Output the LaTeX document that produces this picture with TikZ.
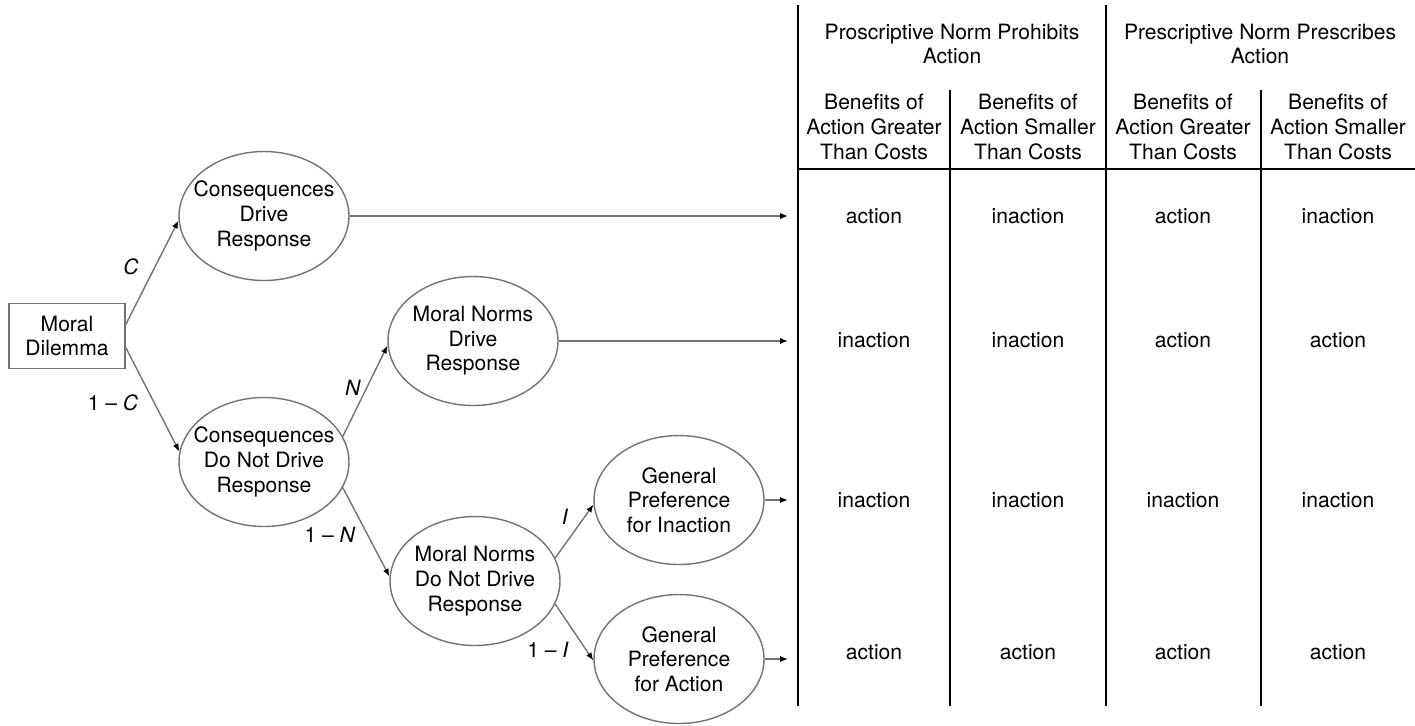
\documentclass[tikz,border=0pt]{standalone}
\usepackage{fontspec}
\setmainfont{TeX Gyre Heros}
\usetikzlibrary{shapes.geometric,arrows.meta}
\definecolor{edgegray}{gray}{0.45}

\begin{document}
\begin{tikzpicture}[x=0.02cm, y=-0.02cm,
        font=\fontsize{12}{14}\selectfont,
        state/.style={ellipse, draw=edgegray, line width=0.8pt, minimum width=3.4cm, minimum height=2.58cm, inner xsep=-10pt, inner ysep=0pt, align=center},
        branch/.style={draw=edgegray, line width=0.8pt, -{Latex[black,length=4.5pt,width=3.5pt]}},
        rule/.style={line width=0.9pt},
        cell/.style={align=center}]

        \useasboundingbox (0,0) rectangle (1415,725);

        % tree
        \node[draw=edgegray, line width=0.8pt, minimum width=2.32cm, minimum height=1.3cm, align=center] (dilemma) at (67,336) {Moral\\Dilemma};
        \node[state] (consDrive) at (264,216) {Consequences\\Drive\\Response};
        \node[state] (consNot) at (264,462) {Consequences\\Do Not Drive\\Response};
        \node[state] (normsDrive) at (473,341) {Moral Norms\\Drive\\Response};
        \node[state] (normsNot) at (475,581) {Moral Norms\\Do Not Drive\\Response};
        \node[state] (prefInaction) at (679,500) {General\\Preference\\for Inaction};
        \node[state] (prefAction) at (679,659) {General\\Preference\\for Action};
        \coordinate (tblEdge) at (788,0);

        \draw[branch] (dilemma.11) -- (consDrive.183);
        \draw[branch] (dilemma.-11) -- (consNot.173);
        \draw[branch] (consNot.18) -- (normsDrive.183);
        \draw[branch] (consNot.-18) -- (normsNot.177);
        \draw[branch] (normsNot.16) -- (prefInaction.183);
        \draw[branch] (normsNot.-16) -- (prefAction.181);

        \draw[branch] (consDrive.east) -- (consDrive.east -| tblEdge);
        \draw[branch] (normsDrive.east) -- (normsDrive.east -| tblEdge);
        \draw[branch] (prefInaction.east) -- (prefInaction.east -| tblEdge);
        \draw[branch] (prefAction.east) -- (prefAction.east -| tblEdge);

        % probabilities
        \node (pC) at (131,267) {\textit{C}};
        \node (pNotC) at (113,403) {1 -- \textit{C}};
        \node (pN) at (353,388) {\textit{N}};
        \node (pNotN) at (330,535) {1 -- \textit{N}};
        \node (pI) at (565,517) {\textit{I}};
        \node (pNotI) at (548,650) {1 -- \textit{I}};

        % table
        \draw[rule] (798,5) -- (798,706);
        \draw[rule] (1106,5) -- (1106,706);
        \draw[rule] (950,90) -- (950,706);
        \draw[rule] (1261,90) -- (1261,706);
        \draw[rule] (798,169) -- (1415,169);

        \node[cell] (hdProhibits) at (952,44) {Proscriptive Norm Prohibits\\Action};
        \node[cell] (hdPrescribes) at (1260,44) {Prescriptive Norm Prescribes\\Action};
        \node[cell] (hdA) at (874,127) {Benefits of\\Action Greater\\Than Costs};
        \node[cell] (hdB) at (1028,127) {Benefits of\\Action Smaller\\Than Costs};
        \node[cell] (hdC) at (1183,127) {Benefits of\\Action Greater\\Than Costs};
        \node[cell] (hdD) at (1338,127) {Benefits of\\Action Smaller\\Than Costs};

        % row 1
        \node (cellA1) at (874,216) {action};
        \node (cellB1) at (1028,216) {inaction};
        \node (cellC1) at (1183,216) {action};
        \node (cellD1) at (1338,216) {inaction};
        % row 2
        \node (cellA2) at (874,340) {inaction};
        \node (cellB2) at (1028,340) {inaction};
        \node (cellC2) at (1183,340) {action};
        \node (cellD2) at (1338,340) {action};
        % row 3
        \node (cellA3) at (874,500) {inaction};
        \node (cellB3) at (1028,500) {inaction};
        \node (cellC3) at (1183,500) {inaction};
        \node (cellD3) at (1338,500) {inaction};
        % row 4
        \node (cellA4) at (874,652) {action};
        \node (cellB4) at (1028,652) {action};
        \node (cellC4) at (1183,652) {action};
        \node (cellD4) at (1338,652) {action};

    \end{tikzpicture}
\end{document}
